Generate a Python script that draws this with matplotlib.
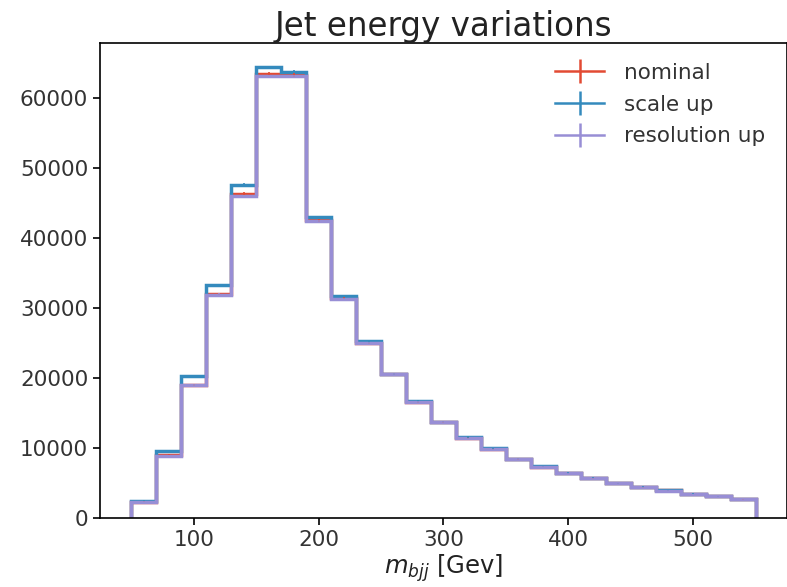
import numpy as np
import matplotlib
matplotlib.use("Agg")
import matplotlib.pyplot as plt
from matplotlib.lines import Line2D
from matplotlib.legend_handler import HandlerTuple

# binning of m_bjj in GeV
bin_edges = np.arange(50, 551, 20)

nominal = [2300, 9000, 19000, 32000, 46300, 63500, 63300, 42500, 31400, 25000,
           20500, 16600, 13650, 11400, 9800, 8400, 7300, 6350, 5650, 4900,
           4350, 3900, 3400, 3050, 2650]
scale_up = [2450, 9500, 20200, 33300, 47600, 64400, 63800, 43000, 31700, 25200,
            20600, 16700, 13750, 11550, 9900, 8450, 7350, 6400, 5700, 4950,
            4400, 3930, 3430, 3070, 2680]
resolution_up = [2300, 8800, 19000, 31900, 46000, 63100, 63100, 42400, 31300, 25000,
                 20500, 16600, 13650, 11350, 9800, 8400, 7300, 6350, 5650, 4900,
                 4350, 3880, 3400, 3050, 2650]

labels = ["nominal", "scale up", "resolution up"]
colors = ["#E24A33", "#348ABD", "#988ED5"]

fig = plt.figure(figsize=(7.87, 5.87), dpi=100)
ax = fig.add_axes([0.127, 0.118, 0.873, 0.809])

centers = 0.5 * (bin_edges[:-1] + bin_edges[1:])
handles = []
for vals, lab, col in zip([nominal, scale_up, resolution_up], labels, colors):
    vals = np.array(vals, dtype=float)
    ax.stairs(vals, bin_edges, color=col, linewidth=2.5)
    ax.errorbar(centers, vals, yerr=np.sqrt(vals), fmt="none", ecolor=col, elinewidth=1.2)
    h_line = Line2D([], [], color=col, linewidth=1.8)
    h_bar = Line2D([], [], color=col, marker="|", linestyle="none", markersize=17, markeredgewidth=1.8)
    handles.append((h_line, h_bar))

ax.set_xlim(25, 575)
ax.set_ylim(0, 67900)
ax.set_yticks(np.arange(0, 60001, 10000))
ax.ticklabel_format(axis="y", style="plain")

ax.tick_params(direction="out", length=5, width=1.2, colors="black", labelsize=15.5,
               labelcolor="#333333")
for s in ax.spines.values():
    s.set_linewidth(1.2)

ax.set_title("Jet energy variations", fontsize=23.5, color="#222222", pad=3)
ax.set_xlabel(r"$m_{bjj}$ [Gev]", fontsize=17.5, color="#222222", labelpad=2)

ax.legend(handles, labels, handler_map={tuple: HandlerTuple(ndivide=1)},
          loc="upper right", frameon=False, fontsize=15.5, handlelength=2.3,
          handletextpad=0.9, labelspacing=0.55, borderaxespad=0.3,
          bbox_to_anchor=(0.99, 0.99), labelcolor="#333333")

fig.savefig("out.png", dpi=100)
